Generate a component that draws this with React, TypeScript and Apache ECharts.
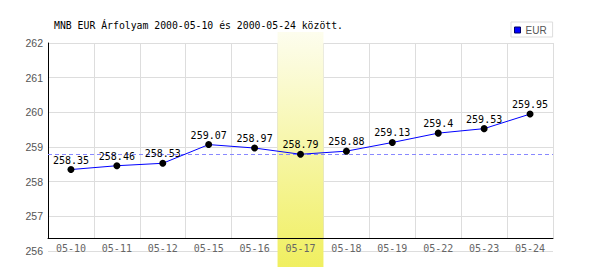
import React, { useEffect, useRef } from "react";
import * as echarts from "echarts";

const titleText = "MNB EUR Árfolyam 2000-05-10 és 2000-05-24 között.";
const seriesName = "EUR";
const categories = ["05-10", "05-11", "05-12", "05-15", "05-16", "05-17", "05-18", "05-19", "05-22", "05-23", "05-24"];
const values = [258.35, 258.46, 258.53, 259.07, 258.97, 258.79, 258.88, 259.13, 259.4, 259.53, 259.95];
const highlightDate = "05-17";
const yMin = 256;
const yMax = 262;
const yStep = 1;

const MONO = "'DejaVu Sans Mono', monospace";
const SANS = "'Liberation Sans', Arial, sans-serif";

export default function App() {
  const ref = useRef<HTMLDivElement>(null);
  useEffect(() => {
    if (!ref.current) return;
    const chart = echarts.init(ref.current, undefined, { renderer: "svg" });
    const hiIdx = categories.indexOf(highlightDate);
    const refValue = values[hiIdx];
    const bandData = categories.map((c) => (c === highlightDate ? 1 : null));
    const L = 48;
    const R = 47;
    chart.setOption({
      animation: false,
      backgroundColor: "#fff",
      title: {
        text: titleText,
        left: 54,
        top: 20,
        padding: 0,
        textStyle: { fontFamily: MONO, fontSize: 9.8, fontWeight: "normal", color: "#000" },
      },
      legend: {
        data: [{ name: seriesName, itemStyle: { color: "#0000ff", borderColor: "#000066", borderWidth: 1 } }],
        left: 511,
        top: 22,
        padding: [3, 6, 2, 3],
        borderColor: "#dddddd",
        borderWidth: 1,
        itemWidth: 6,
        itemHeight: 6,
        icon: "rect",
        textStyle: { fontFamily: SANS, fontSize: 10, color: "#555" },
      },
      grid: [
        { left: L, right: R, top: 43, bottom: 19 },
        { left: L, right: R, top: 43, bottom: 32 },
        { left: L, right: R, top: 32, bottom: 3 },
      ],
      xAxis: [
        { gridIndex: 0, type: "category", position: "bottom", data: categories, boundaryGap: true, show: false },
        {
          gridIndex: 1,
          type: "category",
          position: "bottom",
          data: categories,
          boundaryGap: true,
          z: 0,
          axisLine: { show: false },
          axisTick: { show: false },
          axisLabel: { show: false },
          splitLine: { show: true, lineStyle: { color: "#dddddd", width: 1 } },
        },
        {
          gridIndex: 1,
          type: "category",
          position: "bottom",
          offset: 0,
          data: categories,
          boundaryGap: true,
          z: 4,
          axisLine: { show: true, onZero: false, lineStyle: { color: "#000", width: 1 } },
          axisTick: { show: false },
          axisLabel: { show: true, margin: 5, fontFamily: MONO, fontSize: 10, color: "#666" },
          splitLine: { show: false },
        },
        { gridIndex: 2, type: "category", position: "bottom", data: categories, boundaryGap: true, show: false },
      ],
      yAxis: [
        {
          gridIndex: 0,
          type: "value",
          position: "left",
          min: yMin,
          max: yMax,
          interval: yStep,
          z: 0,
          axisLine: { show: false },
          axisTick: { show: false },
          axisLabel: { margin: 5, fontFamily: SANS, fontSize: 10.5, color: "#555" },
          splitLine: { show: true, lineStyle: { color: "#dddddd", width: 1 } },
        },
        {
          gridIndex: 1,
          type: "value",
          position: "left",
          min: 0,
          max: 1,
          z: 4,
          axisLine: { show: true, onZero: false, lineStyle: { color: "#000", width: 1 } },
          axisTick: { show: false },
          axisLabel: { show: false },
          splitLine: { show: false },
        },
        { gridIndex: 2, type: "value", min: 0, max: 1, show: false },
      ],
      series: [
        {
          name: "ref",
          type: "line",
          xAxisIndex: 0,
          yAxisIndex: 0,
          data: [],
          z: 1,
          silent: true,
          markLine: {
            silent: true,
            symbol: "none",
            label: { show: false },
            lineStyle: { color: "#8888ff", width: 1, type: [4, 3] },
            data: [{ yAxis: refValue }],
          },
        },
        {
          name: "band",
          type: "bar",
          xAxisIndex: 3,
          yAxisIndex: 2,
          data: bandData,
          barWidth: "100%",
          z: 2,
          silent: true,
          itemStyle: {
            color: new echarts.graphic.LinearGradient(0, 0, 0, 1, [
              { offset: 0, color: "#fdfdee" },
              { offset: 1, color: "#f0ef60" },
            ]),
          },
        },
        {
          name: seriesName,
          type: "line",
          xAxisIndex: 0,
          yAxisIndex: 0,
          data: values,
          z: 5,
          symbol: "circle",
          symbolSize: 7,
          lineStyle: { color: "#0000ff", width: 1 },
          itemStyle: { color: "#000" },
          label: {
            show: true,
            position: "top",
            distance: 1,
            fontFamily: MONO,
            fontSize: 10,
            color: "#000",
          },
        },
      ],
    });
    return () => chart.dispose();
  }, []);
  return <div ref={ref} style={{ position: "fixed", left: 0, top: 0, width: 600, height: 270 }} />;
}
